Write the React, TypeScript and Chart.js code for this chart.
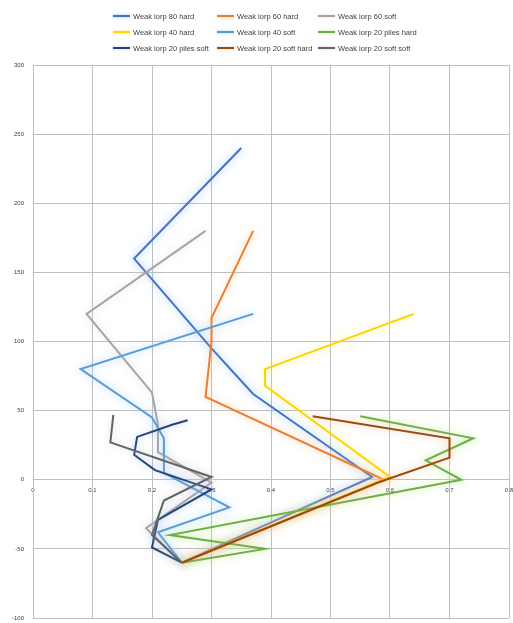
import React, { useEffect, useRef } from "react";
import { Chart, registerables } from "chart.js";

Chart.register(...registerables);

// ---- data ----
const seriesNames = [
  "Weak lorp 80 hard",
  "Weak lorp 60 hard",
  "Weak lorp 60 soft",
  "Weak lorp 40 hard",
  "Weak lorp 40 soft",
  "Weak lorp 20 piles hard",
  "Weak lorp 20 piles soft",
  "Weak lorp 20 soft hard",
  "Weak lorp 20 soft soft",
];

const seriesColors = [
  "#4472C4",
  "#ED7D31",
  "#A5A5A5",
  "#FFD200",
  "#5B9BD5",
  "#70AD47",
  "#264478",
  "#9E480E",
  "#636363",
];

const glowColors = [
  "rgba(120,180,245,0.85)",
  "rgba(250,190,140,0.8)",
  "rgba(205,205,205,0.7)",
  "rgba(255,240,120,0.9)",
  "rgba(140,200,250,0.85)",
  "rgba(170,235,130,0.85)",
  "rgba(150,185,235,0.7)",
  "rgba(235,170,130,0.7)",
  "rgba(195,195,205,0.7)",
];

const s1X = [0.35, 0.17, 0.3, 0.37, 0.57, 0.25];
const s1Y = [240, 160, 95, 62, 2, -60];

const s2X = [0.37, 0.3, 0.3, 0.29, 0.59, 0.25];
const s2Y = [180, 117, 100, 60, 0, -60];

const s3X = [0.29, 0.09, 0.2, 0.21, 0.21, 0.3, 0.19, 0.25];
const s3Y = [180, 120, 63, 40, 20, -2, -35, -60];

const s4X = [0.64, 0.39, 0.39, 0.6, 0.25];
const s4Y = [120, 80, 68, 2, -60];

const s5X = [0.37, 0.08, 0.2, 0.22, 0.22, 0.33, 0.21, 0.25];
const s5Y = [120, 80, 45, 30, 5, -20, -38, -60];

const s6X = [0.55, 0.74, 0.66, 0.72, 0.23, 0.39, 0.25];
const s6Y = [46, 30, 14, 0, -40, -50, -60];

const s7X = [0.26, 0.235, 0.175, 0.17, 0.205, 0.3, 0.21, 0.2, 0.25];
const s7Y = [43, 40, 31, 18, 7, -7, -29, -49, -60];

const s8X = [0.47, 0.7, 0.7, 0.58, 0.25];
const s8Y = [46, 30, 16, -2, -60];

const s9X = [0.135, 0.13, 0.3, 0.22, 0.2, 0.25];
const s9Y = [47, 27, 2, -15, -40, -60];

const seriesX = [s1X, s2X, s3X, s4X, s5X, s6X, s7X, s8X, s9X];
const seriesY = [s1Y, s2Y, s3Y, s4Y, s5Y, s6Y, s7Y, s8Y, s9Y];

const xMin = 0;
const xMax = 0.8;
const xStep = 0.1;
const yMin = -100;
const yMax = 300;
const yStep = 50;

const FONT = "'Liberation Sans', Arial, sans-serif";
const TEXT = "#404040";
const GRID = "#bfbfbf";

const glowPlugin = {
  id: "glow",
  beforeDatasetDraw(chart: any, args: any) {
    const ctx = chart.ctx;
    ctx.save();
    ctx.shadowColor = glowColors[args.index];
    ctx.shadowBlur = 9;
    ctx.shadowOffsetX = 0;
    ctx.shadowOffsetY = 0;
  },
  afterDatasetDraw(chart: any) {
    chart.ctx.restore();
  },
};

export default function App() {
  const canvasRef = useRef<HTMLCanvasElement | null>(null);

  useEffect(() => {
    if (!canvasRef.current) return;
    const datasets = seriesNames.map((name, i) => ({
      label: name,
      data: seriesX[i].map((x, j) => ({ x, y: seriesY[i][j] })),
      borderColor: seriesColors[i],
      backgroundColor: seriesColors[i],
      borderWidth: 2,
      pointRadius: 0,
      pointHoverRadius: 0,
      showLine: true,
      tension: 0,
      fill: false,
      order: seriesNames.length - i,
    }));

    const chart = new Chart(canvasRef.current, {
      type: "scatter",
      data: { datasets },
      plugins: [glowPlugin],
      options: {
        animation: false,
        responsive: true,
        maintainAspectRatio: false,
        layout: { padding: { top: 65, bottom: 5, right: 4, left: 0 } },
        plugins: {
          legend: { display: false },
          tooltip: { enabled: false },
        },
        scales: {
          x: {
            type: "linear",
            position: { y: 0 } as any,
            min: xMin,
            max: xMax,
            ticks: {
              stepSize: xStep,
              font: { family: FONT, size: 6 },
              color: TEXT,
              padding: 7,
              maxRotation: 0,
              callback: (v: any) => (Number(v) === 0 ? "0" : Number(v).toFixed(1)),
            },
            grid: { color: GRID, lineWidth: 1, drawTicks: false },
            border: { color: GRID, width: 1 },
            afterFit: (scale: any) => {
              scale.paddingLeft = 0;
              scale.paddingRight = 0;
              scale.paddingTop = 0;
              scale.paddingBottom = 0;
            },
          },
          y: {
            type: "linear",
            position: "left",
            min: yMin,
            max: yMax,
            ticks: {
              stepSize: yStep,
              font: { family: FONT, size: 6 },
              color: TEXT,
              padding: 9,
            },
            grid: { color: GRID, lineWidth: 1, drawTicks: false },
            border: { color: GRID, width: 1 },
            afterFit: (scale: any) => {
              scale.width = 33;
              scale.paddingTop = 0;
              scale.paddingBottom = 0;
            },
          },
        },
      },
    });
    return () => chart.destroy();
  }, []);

  const colLefts = [113, 217, 318];
  const rowTops = [16, 32, 48];

  return (
    <div
      style={{
        position: "absolute",
        left: 0,
        top: 0,
        width: 513,
        height: 623,
        background: "#ffffff",
      }}
    >
      <canvas ref={canvasRef} />
      {seriesNames.map((name, i) => (
        <div
          key={name}
          style={{
            position: "absolute",
            left: colLefts[i % 3],
            top: rowTops[Math.floor(i / 3)] - 5,
            height: 10,
            display: "flex",
            alignItems: "center",
            whiteSpace: "nowrap",
            fontFamily: FONT,
            fontSize: 7.5,
            color: TEXT,
          }}
        >
          <span
            style={{
              display: "inline-block",
              width: 17,
              height: 2,
              background: seriesColors[i],
              boxShadow: `0 0 3px ${glowColors[i]}`,
              marginRight: 3,
            }}
          />
          <span>{name}</span>
        </div>
      ))}
    </div>
  );
}
